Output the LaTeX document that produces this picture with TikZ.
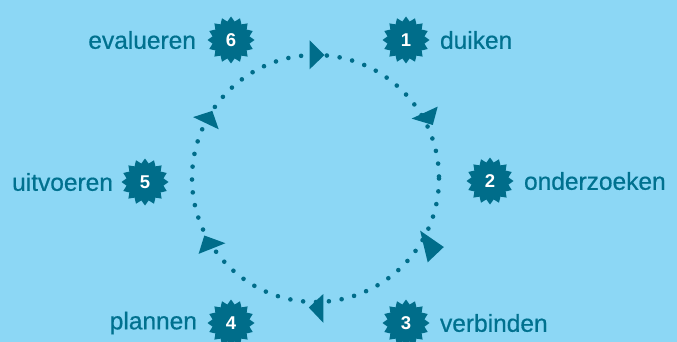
\documentclass[tikz,border=0pt]{standalone}
\usepackage{fontspec}
\setmainfont{Liberation Sans}
\newfontfamily\labelfont{Liberation Sans}[FakeBold=0.6]
\usetikzlibrary{shapes.geometric, positioning}

\definecolor{sky}{HTML}{8CD7F5}
\definecolor{deepteal}{HTML}{006D8A}
\definecolor{labelteal}{HTML}{00718F}

\tikzset{
	burst/.style = {star, star points=16, star point ratio=1.25, fill=deepteal,
		minimum size=47pt, inner sep=0pt, text=white,
		font=\fontsize{18.5}{18.5}\selectfont\bfseries},
	steplabel/.style = {text=labelteal, font=\labelfont\fontsize{24.5}{25}\selectfont, inner sep=0pt},
	loopdots/.style = {deepteal, line width=4.6pt, line cap=round, dash pattern=on 0pt off 12.9pt},
	tip/.style = {fill=deepteal}
}

\begin{document}
\begin{tikzpicture}[x=1pt, y=-1pt]
		\fill[sky] (0,0) rectangle (677,342);
		\useasboundingbox (0,0) rectangle (677,342);

		% the six steps
		\node (s1) [burst] at (406,40) {1};
		\node (s2) [burst] at (490,181) {2};
		\node (s3) [burst] at (406,323) {3};
		\node (s4) [burst] at (231,323) {4};
		\node (s5) [burst] at (145,182) {5};
		\node (s6) [burst] at (231,40) {6};

		\node (l1) [steplabel, right = 10pt of s1] {duiken};
		\node (l2) [steplabel, right = 10pt of s2] {onderzoeken};
		\node (l3) [steplabel, right = 10pt of s3] {verbinden};
		\node (l4) [steplabel, left = 10pt of s4] {plannen};
		\node (l5) [steplabel, left = 8pt of s5] {uitvoeren};
		\node (l6) [steplabel, left = 11pt of s6] {evalueren};

		% the cycle
		\coordinate (c) at (315.5,178.5);
		\draw [loopdots] (c) circle [radius=123.5];

		\fill [tip] (309.6,40.3) -- (324.5,55) -- (309.6,69.3) -- cycle;
		\fill [tip] (411.6,118.6) -- (437.7,106.6) -- (432.8,125) -- cycle;
		\fill [tip] (420.1,230.6) -- (443.8,247) -- (427.7,262.3) -- cycle;
		\fill [tip] (308.8,307.5) -- (323.3,294) -- (323.3,322.8) -- cycle;
		\fill [tip] (204.3,235.5) -- (225.4,243.2) -- (198.6,253.9) -- cycle;
		\fill [tip] (193.1,117.1) -- (212.3,110.9) -- (218.7,129.3) -- cycle;
	\end{tikzpicture}
\end{document}
